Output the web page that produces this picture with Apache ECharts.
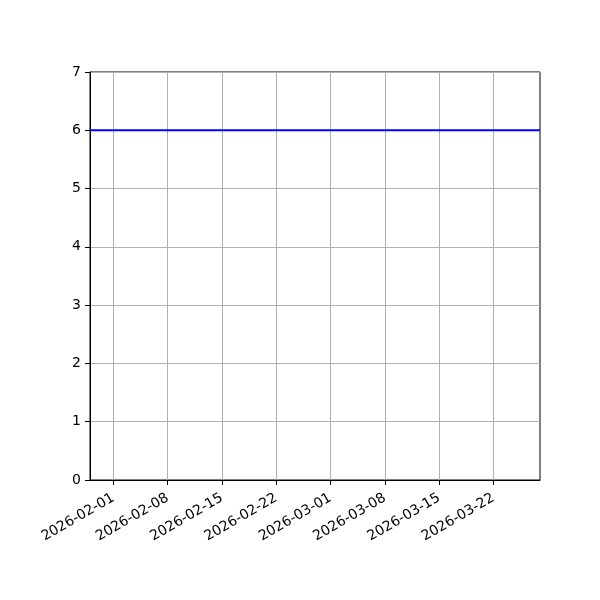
<!DOCTYPE html>
<html>
<head>
<meta charset="utf-8">
<script src="https://cdn.jsdelivr.net/npm/echarts@6/dist/echarts.min.js"></script>
<style>
  html, body { margin: 0; padding: 0; background: #fff; }
  #chart { width: 600px; height: 600px; }
</style>
</head>
<body>
<div id="chart"></div>
<script>
// data
var dates = ['2026-01-29', '2026-03-28'];
var values = [6, 6];
var xTicks = ['2026-02-01', '2026-02-08', '2026-02-15', '2026-02-22',
              '2026-03-01', '2026-03-08', '2026-03-15', '2026-03-22'];
var yTicks = [0, 1, 2, 3, 4, 5, 6, 7];

var ts = function (d) { return new Date(d + 'T00:00:00Z').getTime(); };
var tickTimes = xTicks.map(ts);
var pad = function (n) { return (n < 10 ? '0' : '') + n; };
var fmtDate = function (v) {
  var d = new Date(v);
  return d.getUTCFullYear() + '-' + pad(d.getUTCMonth() + 1) + '-' + pad(d.getUTCDate());
};

var myChart = echarts.init(document.getElementById('chart'));

var option = {
  animation: false,
  textStyle: { fontFamily: 'DejaVu Sans' },
  grid: {
    left: 90, right: 60, top: 72, bottom: 120,
    show: true, borderColor: '#000', borderWidth: 1
  },
  xAxis: {
    type: 'value',
    min: ts(dates[0]),
    max: ts(dates[dates.length - 1]),
    axisLine: { show: true, lineStyle: { color: '#000', width: 1 } },
    axisTick: { show: true, inside: false, length: 5, customValues: tickTimes,
                lineStyle: { color: '#000' } },
    axisLabel: {
      customValues: tickTimes,
      rotate: 30,
      color: '#000',
      fontSize: 14,
      margin: 17,
      formatter: fmtDate
    },
    splitLine: { show: true, lineStyle: { color: '#b0b0b0', width: 1 } }
  },
  yAxis: {
    type: 'value',
    min: yTicks[0],
    max: yTicks[yTicks.length - 1],
    interval: 1,
    axisLine: { show: true, lineStyle: { color: '#000', width: 1 } },
    axisTick: { show: true, inside: false, length: 5, lineStyle: { color: '#000' } },
    axisLabel: { color: '#000', fontSize: 14, margin: 9 },
    splitLine: { show: true, lineStyle: { color: '#b0b0b0', width: 1 } }
  },
  series: [{
    type: 'line',
    data: dates.map(function (d, i) { return [ts(d), values[i]]; }),
    showSymbol: false,
    lineStyle: { color: '#0000ff', width: 2 },
    itemStyle: { color: '#0000ff' }
  }]
};

myChart.setOption(option);
</script>
</body>
</html>
